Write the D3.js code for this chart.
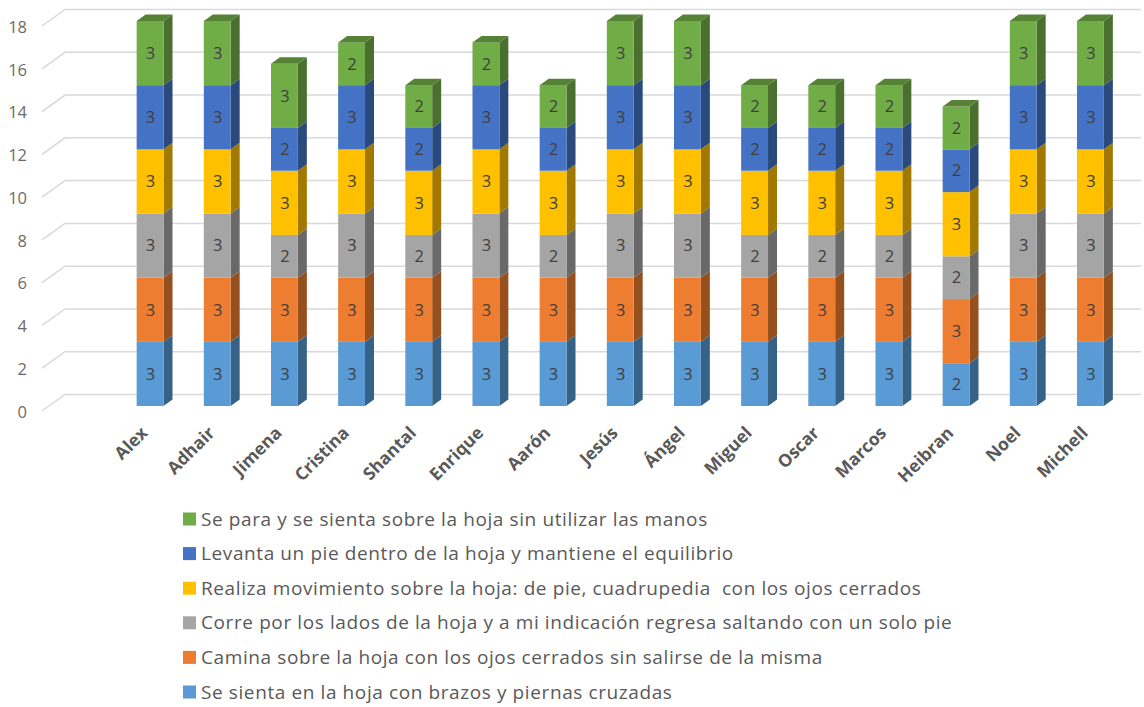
<!DOCTYPE html>
<html lang="en">
<head>
<meta charset="UTF-8"/>
<title>Stacked bars</title>
<script src="https://d3js.org/d3.v7.min.js"></script>
<style>
  html, body { margin: 0; padding: 0; background: #fff; }
  svg { display: block; }
  text { font-family: "Open Sans", "Noto Sans", sans-serif; }
</style>
</head>
<body>
<script>
    // Chart data
    var students = ["Alex", "Adhair", "Jimena", "Cristina", "Shantal", "Enrique", "Aarón", "Jesús", "Ángel", "Miguel", "Oscar", "Marcos", "Heibran", "Noel", "Michell"];
    var sienta =     [3, 3, 3, 3, 3, 3, 3, 3, 3, 3, 3, 3, 2, 3, 3];
    var camina =     [3, 3, 3, 3, 3, 3, 3, 3, 3, 3, 3, 3, 3, 3, 3];
    var corre =      [3, 3, 2, 3, 2, 3, 2, 3, 3, 2, 2, 2, 2, 3, 3];
    var realiza =    [3, 3, 3, 3, 3, 3, 3, 3, 3, 3, 3, 3, 3, 3, 3];
    var levanta =    [3, 3, 2, 3, 2, 3, 2, 3, 3, 2, 2, 2, 2, 3, 3];
    var separa =     [3, 3, 3, 2, 2, 2, 2, 3, 3, 2, 2, 2, 2, 3, 3];
    var yTicks = [0, 2, 4, 6, 8, 10, 12, 14, 16, 18];

    var seriesNames = [
        "Se sienta en la hoja con brazos y piernas cruzadas",
        "Camina sobre la hoja con los ojos cerrados sin salirse de la misma",
        "Corre por los lados de la hoja y a mi indicación regresa saltando con un solo pie",
        "Realiza movimiento sobre la hoja: de pie, cuadrupedia  con los ojos cerrados",
        "Levanta un pie dentro de la hoja y mantiene el equilibrio",
        "Se para y se sienta sobre la hoja sin utilizar las manos"
    ];
    var seriesValues = [sienta, camina, corre, realiza, levanta, separa];
    var frontColors = ["#5b9bd5", "#ed7d31", "#a5a5a5", "#ffc000", "#4472c4", "#70ad47"];
    var sideColors = ["#376287", "#96501e", "#696969", "#a27900", "#2a4a7e", "#4a6f2e"];
    var topColors = ["#4a7fae", "#c06728", "#868686", "#cf9c00", "#375d9f", "#558235"];

    var w = 1144;
    var h = 707;
    var depthX = 9, depthY = 6.5;   // depth of one bar
    var wallX = 23, wallY = 16.5;   // depth of the floor under the gridlines

    var svg = d3.select("body").append("svg")
        .attr("width", w)
        .attr("height", h);

    // Scale for the front edge of the gridlines
    var yGrid = d3.scaleLinear().domain([0, 18]).range([411, 26]);
    // Bars sit a little behind that edge
    var yBar = d3.scaleLinear().domain([0, 18]).range([406, 21]);
    var xScale = d3.scaleBand()
        .domain(students)
        .range([116.5, 1124])
        .paddingInner(0.6)
        .paddingOuter(0.3);

    // Gridlines, one broken line per tick
    var line = d3.line();
    svg.selectAll("path.grid")
        .data(yTicks)
        .enter()
        .append("path")
        .attr("class", "grid")
        .attr("fill", "none")
        .attr("stroke", "#d9d9d9")
        .attr("stroke-width", 1.5)
        .attr("d", function(d) {
            var y = yGrid(d);
            return line([[42, y], [42 + wallX, y - wallY], [1141, y - wallY]]);
        });

    // Y axis labels
    var yAxis = d3.axisLeft(yGrid).tickValues(yTicks).tickSize(0).tickPadding(0);
    var yG = svg.append("g")
        .attr("transform", "translate(27, 1)")
        .call(yAxis);
    yG.select(".domain").remove();
    yG.selectAll("text")
        .attr("font-size", "16.5px")
        .style("font-family", '"Open Sans", sans-serif')
        .attr("fill", "#6b6b6b");

    // Stacks, built from the named arrays
    var rows = students.map(function(name, i) {
        var row = { name: name };
        seriesValues.forEach(function(vals, s) { row["s" + s] = vals[i]; });
        return row;
    });
    var stack = d3.stack().keys(seriesValues.map(function(v, s) { return "s" + s; }));
    var stacked = stack(rows);

    var layers = svg.selectAll("g.layer")
        .data(stacked)
        .enter()
        .append("g")
        .attr("class", "layer");

    // Right side of each segment
    layers.selectAll("path.side")
        .data(function(d) { return d.map(function(p) { return { p: p, s: d.index }; }); })
        .enter()
        .append("path")
        .attr("class", "side")
        .attr("fill", function(d) { return sideColors[d.s]; })
        .attr("d", function(d) {
            var x = xScale(d.p.data.name) + xScale.bandwidth();
            var y0 = yBar(d.p[0]), y1 = yBar(d.p[1]);
            return "M" + x + "," + y0 + "L" + (x + depthX) + "," + (y0 - depthY) +
                   "L" + (x + depthX) + "," + (y1 - depthY) + "L" + x + "," + y1 + "Z";
        });

    // Front of each segment
    layers.selectAll("rect.front")
        .data(function(d) { return d.map(function(p) { return { p: p, s: d.index }; }); })
        .enter()
        .append("rect")
        .attr("class", "front")
        .attr("x", function(d) { return xScale(d.p.data.name); })
        .attr("y", function(d) { return yBar(d.p[1]); })
        .attr("width", xScale.bandwidth())
        .attr("height", function(d) { return yBar(d.p[0]) - yBar(d.p[1]); })
        .attr("fill", function(d) { return frontColors[d.s]; });

    // Top cap, only on the last series
    svg.append("g").selectAll("path.cap")
        .data(stacked[stacked.length - 1])
        .enter()
        .append("path")
        .attr("class", "cap")
        .attr("fill", topColors[5])
        .attr("d", function(d) {
            var x = xScale(d.data.name), y = yBar(d[1]), b = xScale.bandwidth();
            return "M" + x + "," + y + "L" + (x + depthX) + "," + (y - depthY) +
                   "L" + (x + b + depthX) + "," + (y - depthY) + "L" + (x + b) + "," + y + "Z";
        });

    // Value labels
    layers.selectAll("text.value")
        .data(function(d) { return d; })
        .enter()
        .append("text")
        .attr("class", "value")
        .attr("x", function(d) { return xScale(d.data.name) + xScale.bandwidth() / 2 + 0.5; })
        .attr("y", function(d) { return (yBar(d[0]) + yBar(d[1])) / 2; })
        .attr("dy", "0.35em")
        .attr("text-anchor", "middle")
        .attr("font-size", "16.5px")
        .attr("fill", "#404040")
        .text(function(d) { return d[1] - d[0]; });

    // Category labels, rotated
    svg.selectAll("text.cat")
        .data(students)
        .enter()
        .append("text")
        .attr("class", "cat")
        .attr("text-anchor", "end")
        .attr("font-size", "17.5px")
        .attr("font-weight", "bold")
        .attr("fill", "#595959")
        .attr("transform", function(d) {
            return "translate(" + (xScale(d) + 12) + ",434) rotate(-45)";
        })
        .text(function(d) { return d; });

    // Legend, last series on top
    var legendY = d3.scalePoint()
        .domain(seriesNames.slice().reverse())
        .range([519, 692]);

    var legend = svg.selectAll("g.legend")
        .data(seriesNames)
        .enter()
        .append("g")
        .attr("class", "legend")
        .attr("transform", function(d) { return "translate(0," + legendY(d) + ")"; });

    legend.append("rect")
        .attr("x", 183)
        .attr("y", -6.5)
        .attr("width", 13)
        .attr("height", 13)
        .attr("fill", function(d, i) { return frontColors[i]; });

    legend.append("text")
        .attr("x", 201)
        .attr("dy", "0.35em")
        .attr("font-size", "19px")
        .attr("letter-spacing", "0.6px")
        .attr("fill", "#595959")
        .attr("xml:space", "preserve")
        .style("white-space", "pre")
        .text(function(d) { return d; });
</script>
</body>
</html>
